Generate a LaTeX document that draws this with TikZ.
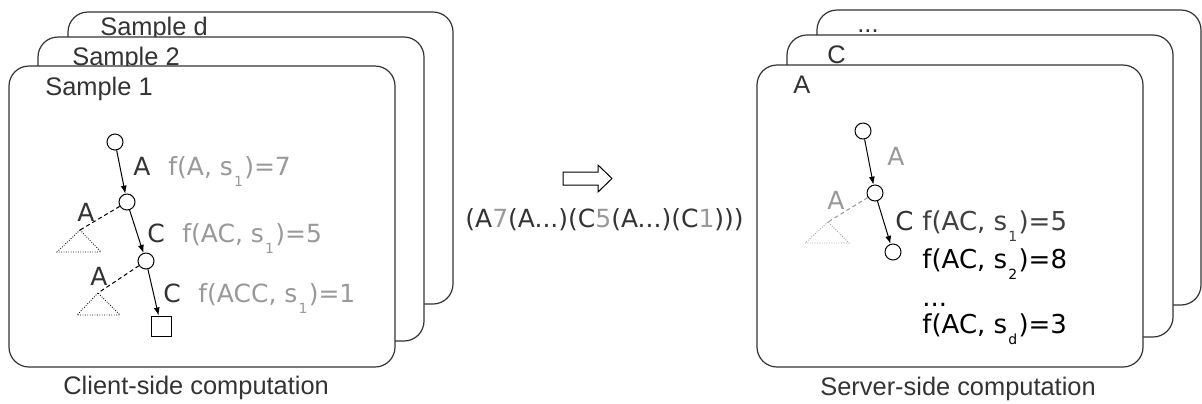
\documentclass[tikz,border=0pt]{standalone}
\usepackage{fontspec}
\setmainfont{DejaVu Sans}
\newfontfamily\labelfont{Liberation Sans}
\usetikzlibrary{arrows.meta}
\definecolor{darktext}{HTML}{333333}
\definecolor{lighttext}{HTML}{999999}
\definecolor{cardline}{HTML}{333333}
\newcommand{\lowsub}[1]{\kern0.6pt\raisebox{-0.45em}{\fontsize{7}{8}\selectfont #1}\kern0.6pt}
\tikzset{card/.style={draw=cardline, line width=0.6pt, fill=white, rounded corners=10pt},
    cardlabel/.style={anchor=base west, inner sep=0pt, text=darktext,
        font=\labelfont\fontsize{12.7}{15}\selectfont},
    state/.style={circle, draw, fill=white, minimum size=8pt, inner sep=0pt, line width=0.5pt},
    leaf/.style={rectangle, draw, fill=white, minimum size=10pt, inner sep=0pt, line width=0.5pt},
    edge/.style={-{Latex[length=4pt,width=3pt]}, line width=0.5pt},
    branch/.style={dash pattern=on 2pt off 1.5pt, line width=0.5pt},
    subtree/.style={dash pattern=on 0.4pt off 0.8pt, line width=0.45pt},
    txt/.style={anchor=base west, inner sep=0pt, font=\fontsize{12.5}{15}\selectfont},
    score/.style={txt, font=\fontsize{13}{15}\selectfont},
    }

\begin{document}
\begin{tikzpicture}[x=0.5pt, y=-0.5pt]
\useasboundingbox (0,0) rectangle (1202,403);
% client side
\draw[card] (68,12) rectangle (453,304);
\node[cardlabel] (sampled) at (100,35) {Sample d};
\draw[card] (38,37) rectangle (424,341);
\node[cardlabel] (sample2) at (72,65) {Sample 2};
\draw[card] (9,66) rectangle (395,367);
\node[cardlabel] (sample1) at (45,95) {Sample 1};
\node[state] (a0) at (115,142) {};
\node[state] (a1) at (127,202) {};
\node[state] (a2) at (146,261) {};
\node[leaf] (a3) at (161,326) {};
\draw[edge] (a0) -- (a1);
\draw[edge] (a1) -- (a2);
\draw[edge] (a2) -- (a3);
\coordinate (ta1) at (80,230);
\coordinate (ta2) at (98,293);
\draw[branch] (a1) -- (ta1);
\draw[branch] (a2) -- (ta2);
\draw[subtree] (ta1) -- (57,252) -- (101,252) -- cycle;
\draw[subtree] (ta2) -- (77,315) -- (120,315) -- cycle;
\node[txt, text=darktext] (ma0) at (133,175) {A};
\node[txt, text=lighttext] (fa0) at (168,175) {f(A, s\lowsub{1})=7};
\node[txt, text=darktext] (ma1) at (147,242) {C};
\node[txt, text=lighttext] (fa1) at (182,242) {f(AC, s\lowsub{1})=5};
\node[txt, text=darktext] (ma2) at (163,302) {C};
\node[txt, text=lighttext] (fa2) at (198,302) {f(ACC, s\lowsub{1})=1};
\node[txt, text=darktext] (na1) at (77,221) {A};
\node[txt, text=darktext] (na2) at (90,285) {A};
\node[cardlabel] (client) at (63,394) {Client-side computation};
% sent string
\draw[line width=0.5pt] (563,172) -- (598,172) -- (598,165) -- (612,178.5)
    -- (598,192) -- (598,185) -- (563,185) -- cycle;
\node[txt, text=darktext] (code) at (465,227)
    {(A\textcolor{lighttext}{7}(A...)(C\textcolor{lighttext}{5}(A...)(C\textcolor{lighttext}{1})))};
% server side
\draw[card] (817,10) rectangle (1201,305);
\node[cardlabel] (moredots) at (857,32) {...};
\draw[card] (787,35) rectangle (1173,337);
\node[cardlabel] (prefc) at (827,63) {C};
\draw[card] (757,65) rectangle (1143,367);
\node[cardlabel] (prefa) at (793,93) {A};
\node[state] (b0) at (863,131) {};
\node[state] (b1) at (875,193) {};
\node[state] (b2) at (893,252) {};
\draw[edge] (b0) -- (b1);
\draw[edge] (b1) -- (b2);
\coordinate (tb1) at (828,222);
\draw[branch, lighttext] (b1) -- (tb1);
\draw[subtree, lighttext] (tb1) -- (805,243) -- (849,243) -- cycle;
\node[txt, text=lighttext] (mb0) at (887,165) {A};
\node[txt, text=lighttext] (nb1) at (827,209) {A};
\node[score, text=darktext] (mb1) at (895,230) {C};
\node[score, text=black!75] (fb1) at (922,230) {f(AC, s\lowsub{1})=5};
\node[score] (fb2) at (922,268) {f(AC, s\lowsub{2})=8};
\node[score] (fbdots) at (922,306) {...};
\node[score] (fbd) at (922,333) {f(AC, s\lowsub{d})=3};
\node[cardlabel] (server) at (820,395) {Server-side computation};
\end{tikzpicture}
\end{document}
